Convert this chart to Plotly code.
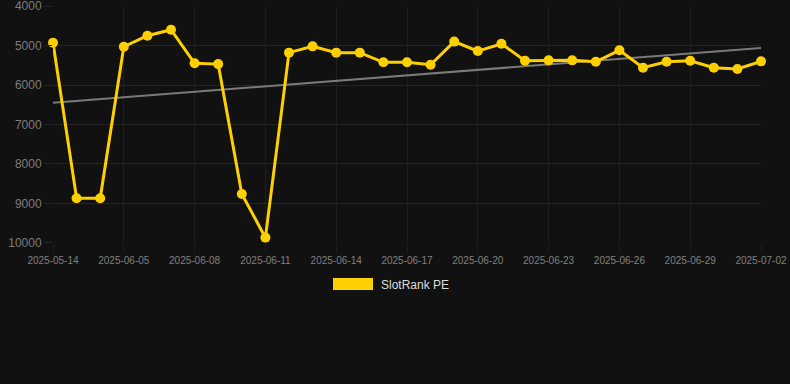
import plotly.graph_objects as go

dates = ["2025-05-14", "2025-06-03", "2025-06-04", "2025-06-05", "2025-06-06", "2025-06-07",
         "2025-06-08", "2025-06-09", "2025-06-10", "2025-06-11", "2025-06-12", "2025-06-13",
         "2025-06-14", "2025-06-15", "2025-06-16", "2025-06-17", "2025-06-18", "2025-06-19",
         "2025-06-20", "2025-06-21", "2025-06-22", "2025-06-23", "2025-06-24", "2025-06-25",
         "2025-06-26", "2025-06-27", "2025-06-28", "2025-06-29", "2025-06-30", "2025-07-01",
         "2025-07-02"]
rank = [4930, 8870, 8870, 5030, 4750, 4600, 5450, 5470, 8760, 9865, 5180, 5020,
        5180, 5180, 5425, 5425, 5485, 4900, 5140, 4955, 5385, 5375, 5375, 5410,
        5120, 5560, 5410, 5385, 5560, 5595, 5400]
trend_x = [dates[0], dates[-1]]
trend_y = [6450, 5060]
y_ticks = [4000, 5000, 6000, 7000, 8000, 9000, 10000]
y_labels = [str(v) for v in y_ticks]
x_ticks = dates[::3]
series_name = "SlotRank PE"

GOLD = "#FFD000"
GRID_H = "#242424"
GRID_V = "#1e1e1e"
BG = "#111111"
FONT = "Liberation Sans, Arial, Helvetica, sans-serif"

fig = go.Figure()
fig.add_trace(go.Scatter(x=trend_x, y=trend_y, mode="lines",
                         line=dict(color="#7a7a7a", width=2),
                         showlegend=False, hoverinfo="skip"))
fig.add_trace(go.Scatter(x=dates, y=rank, mode="lines+markers", name=series_name,
                         line=dict(color=GOLD, width=3),
                         marker=dict(color=GOLD, size=10),
                         showlegend=False, cliponaxis=False))

W, H = 790, 384
L, R, T, B = 53, 29, 6, 141
pw, ph = W - L - R, H - T - B

def px_x(p):
    return (p - L) / pw

def px_y(p):
    return (H - B - p) / ph

fig.add_shape(type="rect", xref="paper", yref="paper",
              x0=px_x(333), x1=px_x(373), y0=px_y(290), y1=px_y(278),
              fillcolor=GOLD, line=dict(width=0))
fig.add_annotation(xref="paper", yref="paper", x=px_x(379), y=px_y(284.5),
                   text=series_name, showarrow=False, xanchor="left", yanchor="middle",
                   font=dict(family=FONT, size=12, color="#dddddd"))

fig.update_layout(
    width=W, height=H,
    margin=dict(l=L, r=R, t=T, b=B),
    paper_bgcolor=BG, plot_bgcolor=BG,
    font=dict(family=FONT, color="#808080"),
    showlegend=False,
    xaxis=dict(type="category", categoryorder="array", categoryarray=dates,
               range=[0, len(dates) - 1],
               tickmode="array", tickvals=x_ticks, ticktext=x_ticks,
               tickfont=dict(size=10, color="#808080"),
               showgrid=True, gridcolor=GRID_V, gridwidth=1,
               ticks="outside", ticklen=8, tickcolor=GRID_V,
               ticklabeloverflow="allow", automargin=False,
               showline=False, zeroline=False),
    yaxis=dict(range=[10002, 3998], tickmode="array", tickvals=y_ticks, ticktext=y_labels,
               tickfont=dict(size=12, color="#7c7c7c"),
               showgrid=True, gridcolor=GRID_H, gridwidth=1,
               ticks="outside", ticklen=8, tickcolor=GRID_H,
               ticklabeloverflow="allow", automargin=False,
               showline=False, zeroline=False),
)

fig.write_html("out.html", config={"displayModeBar": False},
               post_script="document.body.style.margin='0';document.body.style.background='#111111';")
